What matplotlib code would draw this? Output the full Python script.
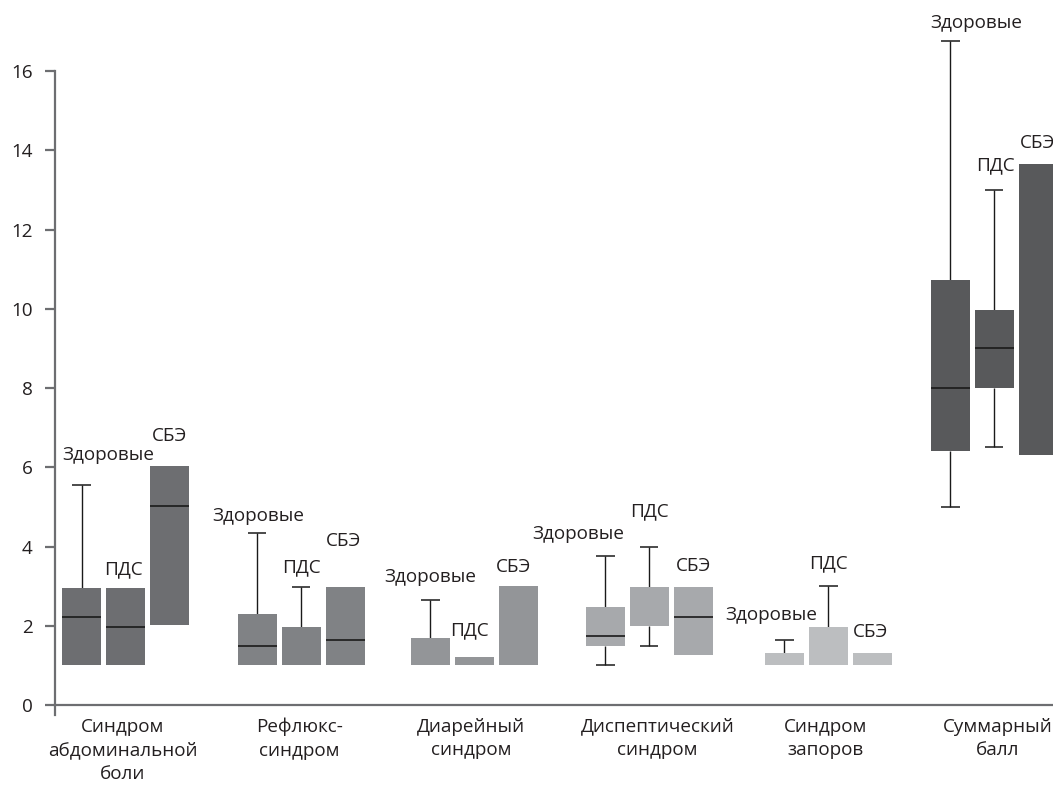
import numpy as np
import matplotlib
matplotlib.use("Agg")
import matplotlib.pyplot as plt

plt.rcParams['font.family'] = ['Open Sans', 'DejaVu Sans']

# ---------------- data ----------------
categories = ["Синдром\nабдоминальной\nболи", "Рефлюкс-\nсиндром", "Диарейный\nсиндром",
              "Диспептический\nсиндром", "Синдром\nзапоров", "Суммарный\nбалл"]
series = ["Здоровые", "ПДС", "СБЭ"]
nan = np.nan

# lower quartile (box bottom)
q1_healthy = [1.0, 1.0, 1.0, 1.5, 1.0, 6.42]
q1_pds     = [1.0, 1.0, 1.0, 2.0, 1.0, 8.0]
q1_sbe     = [2.03, 1.0, 1.0, 1.25, 1.0, 6.3]
# upper quartile (box top)
q3_healthy = [2.95, 2.3, 1.68, 2.48, 1.32, 10.73]
q3_pds     = [2.95, 1.98, 1.22, 2.97, 1.98, 9.98]
q3_sbe     = [6.02, 2.98, 3.0, 2.97, 1.32, 13.65]
# medians (nan = not visible)
med_healthy = [2.23, 1.48, nan, 1.73, nan, 8.0]
med_pds     = [1.98, nan, nan, nan, nan, 9.0]
med_sbe     = [5.02, 1.64, nan, 2.23, nan, nan]
# whiskers
whi_healthy = [5.55, 4.35, 2.65, 3.75, 1.65, 16.77]
whi_pds     = [nan, 2.97, nan, 4.0, 3.0, 13.0]
whi_sbe     = [nan, nan, nan, nan, nan, nan]
wlo_healthy = [nan, nan, nan, 1.0, nan, 5.0]
wlo_pds     = [nan, nan, nan, 1.5, nan, 6.5]
wlo_sbe     = [nan, nan, nan, nan, nan, nan]

yticks = [0, 2, 4, 6, 8, 10, 12, 14, 16]

# ---------------- layout / style ----------------
group_centers = [0.0, 1.012, 2.008, 3.015, 4.045, 5.0]
xlabel_centers = [-0.017, 1.0, 1.99, 3.06, 4.03, 5.02]
offsets = [-0.253, 0.0, 0.253]
box_width = 0.224
cap_width = 0.104
group_colors = ["#6d6e71", "#808285", "#939598", "#a7a9ac", "#bcbec0", "#58595b"]
# label anchor positions (x, y centre) for series names, per group
label_pos = [
    [(-0.10, 6.31), (-0.01, 3.43), (0.253, 6.78)],
    [(0.762, 4.76), (1.010, 3.48), (1.257, 4.13)],
    [(1.752, 3.24), (1.979, 1.89), (2.232, 3.48)],
    [(2.606, 4.32), (3.015, 4.90), (3.271, 3.51)],
    [(3.717, 2.27), (4.042, 3.58), (4.289, 1.84)],
    [(4.896, 17.22), (5.003, 13.63), (5.245, 14.18)],
]

q1 = [q1_healthy, q1_pds, q1_sbe]
q3 = [q3_healthy, q3_pds, q3_sbe]
med = [med_healthy, med_pds, med_sbe]
whi = [whi_healthy, whi_pds, whi_sbe]
wlo = [wlo_healthy, wlo_pds, wlo_sbe]

W, H = 1053, 787
fig = plt.figure(figsize=(W / 100, H / 100), dpi=100)
ylo, yhi = -0.6, 17.79
ax = fig.add_axes([55 / W, 58.2 / H, 998 / W, 728.7 / H])
ax.set_xlim(-0.4056, 5.337)
ax.set_ylim(ylo, yhi)

text_color = "#231f20"
axis_color = "#6d6e71"
fs = 13.6

for s in range(3):
    for g in range(6):
        x = group_centers[g] + offsets[s]
        b, t = q1[s][g], q3[s][g]
        ax.bar(x, t - b, bottom=b, width=box_width, color=group_colors[g],
               edgecolor="none", zorder=2)
        if not np.isnan(med[s][g]):
            ax.hlines(med[s][g], x - box_width / 2, x + box_width / 2,
                      color="#1a1a1a", lw=1.2, zorder=3)
        if not np.isnan(whi[s][g]):
            ax.vlines(x, t, whi[s][g], color="#1a1a1a", lw=1.0, zorder=1)
            ax.hlines(whi[s][g], x - cap_width / 2, x + cap_width / 2,
                      color="#1a1a1a", lw=1.1, zorder=1)
        if not np.isnan(wlo[s][g]):
            ax.vlines(x, wlo[s][g], b, color="#1a1a1a", lw=1.0, zorder=1)
            ax.hlines(wlo[s][g], x - cap_width / 2, x + cap_width / 2,
                      color="#1a1a1a", lw=1.1, zorder=1)
        lx, ly = label_pos[g][s]
        ax.text(lx, ly, series[s], ha="center", va="center", fontsize=fs,
                color=text_color, clip_on=False)

for side in ["top", "right"]:
    ax.spines[side].set_visible(False)
ax.spines["bottom"].set_position(("data", 0))
ax.spines["left"].set_bounds(-0.25, 16)
for side in ["left", "bottom"]:
    ax.spines[side].set_color(axis_color)
    ax.spines[side].set_linewidth(1.6)

ax.set_yticks(yticks)
ax.set_yticklabels([str(v) for v in yticks])
ax.tick_params(axis="y", length=7.2, width=1.6, color=axis_color, pad=9,
               labelsize=fs, labelcolor=text_color)
ax.set_xticks(xlabel_centers)
ax.set_xticklabels(categories, linespacing=1.4)
ax.tick_params(axis="x", length=0, pad=9, labelsize=fs, labelcolor=text_color)

fig.savefig("out.png", dpi=100)
